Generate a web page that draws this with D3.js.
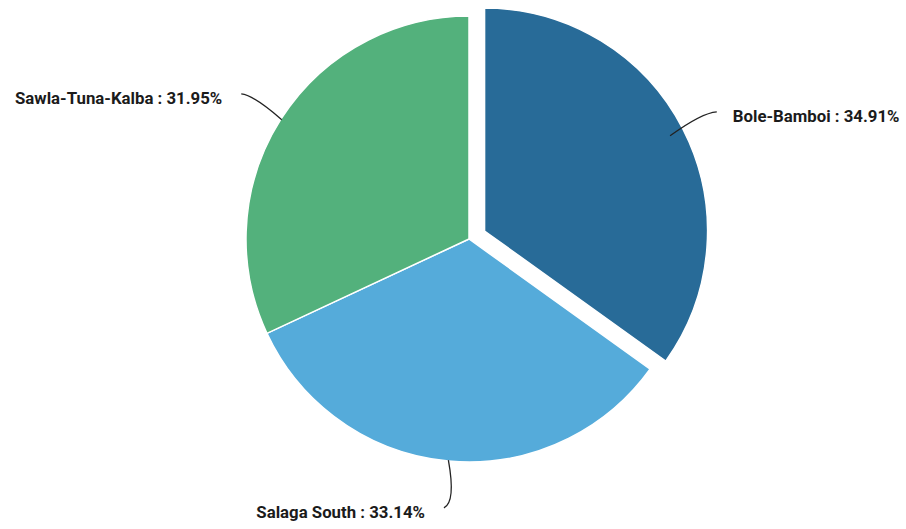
<!DOCTYPE html>
<html>
<head>
<meta charset="utf-8">
<script src="https://cdn.jsdelivr.net/npm/d3@7"></script>
<style>
  html, body { margin: 0; padding: 0; background: #ffffff; }
  svg { display: block; }
  .lbl { font-family: Roboto, "Open Sans", sans-serif; font-weight: 700; font-size: 16.8px; fill: #1b1b1b; }
</style>
</head>
<body>
<svg id="chart" width="906" height="529"></svg>
<script>
// Share of each district
const categories = ["Bole-Bamboi", "Salaga South", "Sawla-Tuna-Kalba"];
const values = [34.91, 33.14, 31.95];
const colors = ["#286b98", "#55abda", "#53b17c"];
const exploded = [true, false, false];

const width = 906, height = 529;
const cx = 469, cy = 239, radius = 223, explode = 17.5;

const svg = d3.select("#chart");
const g = svg.append("g").attr("transform", `translate(${cx},${cy})`);

const data = categories.map((c, i) => ({ name: c, value: values[i], color: colors[i], out: exploded[i] }));

const pie = d3.pie().sort(null).value(d => d.value);
const arc = d3.arc().innerRadius(0).outerRadius(radius);
const arcs = pie(data);

const pt = (a, r) => [Math.sin(a) * r, -Math.cos(a) * r];

arcs.forEach(a => {
  const mid = (a.startAngle + a.endAngle) / 2;
  const off = a.data.out ? pt(mid, explode) : [0, 0];
  const sg = g.append("g").attr("transform", `translate(${off[0]},${off[1]})`);

  sg.append("path")
    .attr("d", arc(a))
    .attr("fill", a.data.color)
    .attr("stroke", "#ffffff")
    .attr("stroke-width", 1.5);

  // connector from the slice edge out to the label
  const s = pt(mid, a.data.out ? radius * 0.935 : radius - 1);
  const e = pt(mid, a.data.out ? radius + 38 : radius + 47);
  const right = e[0] > 0;
  const c = [e[0] + (right ? -15 : 12), e[1] + (Math.abs(e[0]) < 60 ? -6 : 1)];
  const p = d3.path();
  p.moveTo(s[0], s[1]);
  p.quadraticCurveTo(c[0], c[1], e[0], e[1]);
  sg.append("path")
    .attr("d", p.toString())
    .attr("fill", "none")
    .attr("stroke", "#222222")
    .attr("stroke-width", 1.3);

  sg.append("text")
    .attr("class", "lbl")
    .attr("x", e[0] + (right ? 16 : -19))
    .attr("y", e[1] + 4)
    .attr("dy", "0.35em")
    .attr("text-anchor", right ? "start" : "end")
    .text(`${a.data.name} : ${a.data.value.toFixed(2)}%`);
});
</script>
</body>
</html>
